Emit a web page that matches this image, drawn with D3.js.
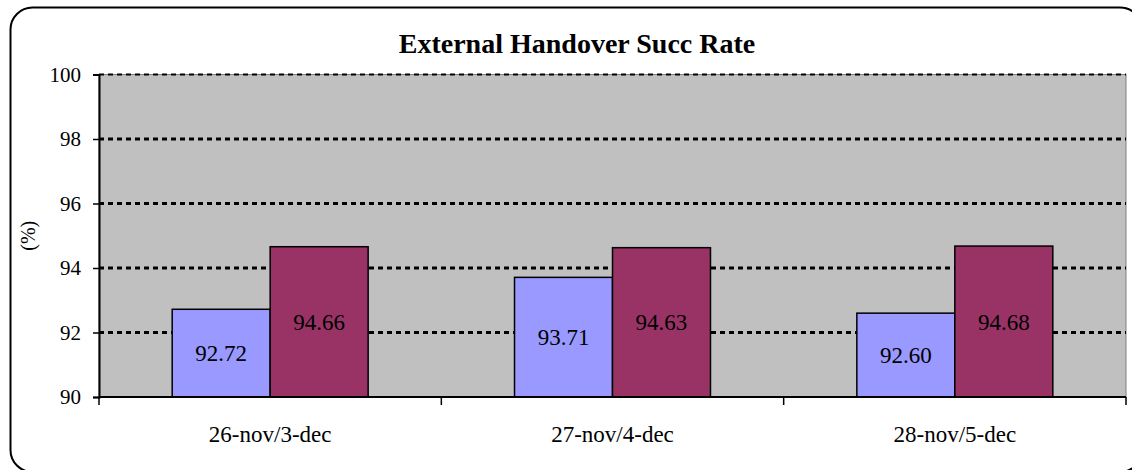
<!DOCTYPE html>
<html>
<head>
<meta charset="utf-8">
<script src="https://cdn.jsdelivr.net/npm/d3@7/dist/d3.min.js"></script>
<style>
  html, body { margin: 0; padding: 0; background: #ffffff; }
  svg { display: block; }
  text { font-family: "Liberation Serif", "Times New Roman", serif; fill: #000; }
</style>
</head>
<body>
<svg id="chart" width="1132" height="470"></svg>
<script>
// Weekly comparison: previous week vs current week
const categories = ["26-nov/3-dec", "27-nov/4-dec", "28-nov/5-dec"];
const seriesNames = ["prev", "curr"];
const prevWeek = [92.72, 93.71, 92.60];
const currWeek = [94.66, 94.63, 94.68];
const yTicks = [90, 92, 94, 96, 98, 100];
const seriesColors = ["#9999ff", "#993366"];

const svg = d3.select("#chart");
const plot = { left: 99, right: 1126, top: 74.5, bottom: 397 };

// Outer rounded frame
svg.append("rect")
  .attr("x", 10.5).attr("y", 7.5)
  .attr("width", 1142 - 10.5).attr("height", 472 - 7.5)
  .attr("rx", 22).attr("ry", 22)
  .attr("fill", "#ffffff")
  .attr("stroke", "#000").attr("stroke-width", 2);

// Title
svg.append("text")
  .attr("x", 577).attr("y", 53)
  .attr("text-anchor", "middle")
  .attr("font-weight", "bold")
  .attr("font-size", 28)
  .text("External Handover Succ Rate");

const y = d3.scaleLinear().domain([90, 100]).range([plot.bottom, plot.top]);
const x0 = d3.scaleBand().domain(categories).range([plot.left, plot.right]).padding(0);
const x1 = d3.scaleBand().domain(seriesNames).range([0, x0.bandwidth()])
  .paddingInner(0).paddingOuter(0.747);

// Plot area background
svg.append("rect")
  .attr("x", plot.left).attr("y", plot.top)
  .attr("width", plot.right - plot.left).attr("height", plot.bottom - plot.top)
  .attr("fill", "#c0c0c0")
  .attr("stroke", "#808080").attr("stroke-width", 1);

// Dotted gridlines
svg.append("g")
  .selectAll("line")
  .data(yTicks.filter(d => d > 90))
  .join("line")
  .attr("x1", plot.left).attr("x2", plot.right)
  .attr("y1", d => y(d)).attr("y2", d => y(d))
  .attr("stroke", "#000")
  .attr("stroke-width", d => d === 100 ? 2 : 3)
  .attr("stroke-dasharray", "5,4");

// Bars
const rows = categories.map((c, i) => ({ cat: c, values: [prevWeek[i], currWeek[i]] }));
const groups = svg.append("g")
  .selectAll("g")
  .data(rows)
  .join("g")
  .attr("transform", d => `translate(${x0(d.cat)},0)`);

groups.selectAll("rect")
  .data(d => d.values.map((v, j) => ({ key: seriesNames[j], v, j })))
  .join("rect")
  .attr("x", d => x1(d.key))
  .attr("y", d => y(d.v))
  .attr("width", x1.bandwidth())
  .attr("height", d => y(90) - y(d.v))
  .attr("fill", d => seriesColors[d.j])
  .attr("stroke", "#000").attr("stroke-width", 1.5);

groups.selectAll("text")
  .data(d => d.values.map((v, j) => ({ key: seriesNames[j], v, j })))
  .join("text")
  .attr("x", d => x1(d.key) + x1.bandwidth() / 2)
  .attr("y", d => (y(d.v) + y(90)) / 2)
  .attr("dy", "0.35em")
  .attr("text-anchor", "middle")
  .attr("font-size", 23)
  .text(d => d.v.toFixed(2));

// Y axis
const yAxis = d3.axisLeft(y).tickValues(yTicks).tickSize(6).tickPadding(12).tickFormat(d3.format("d"));
const gy = svg.append("g").attr("transform", `translate(${plot.left},0)`).call(yAxis);
gy.select(".domain").attr("stroke", "#000").attr("stroke-width", 2);
gy.selectAll(".tick line").attr("stroke", "#000").attr("stroke-width", 1.5);
gy.selectAll(".tick text").attr("font-size", 21).attr("font-family", "Liberation Serif");

// X axis with ticks at the category boundaries
const gx = svg.append("g").attr("transform", `translate(0,${plot.bottom})`);
gx.append("line")
  .attr("x1", plot.left).attr("x2", plot.right)
  .attr("y1", 0).attr("y2", 0)
  .attr("stroke", "#000").attr("stroke-width", 2);
const boundaries = categories.map(c => x0(c)).concat([x0(categories[categories.length - 1]) + x0.bandwidth()]);
gx.selectAll("line.tick")
  .data(boundaries)
  .join("line")
  .attr("class", "tick")
  .attr("x1", d => d).attr("x2", d => d)
  .attr("y1", 0).attr("y2", 8)
  .attr("stroke", "#000").attr("stroke-width", 1.5);
gx.selectAll("text")
  .data(categories)
  .join("text")
  .attr("x", d => x0(d) + x0.bandwidth() / 2)
  .attr("y", 45)
  .attr("text-anchor", "middle")
  .attr("font-size", 23)
  .text(d => d);

// Y axis title
svg.append("text")
  .attr("transform", `translate(35,${(plot.top + plot.bottom) / 2}) rotate(-90)`)
  .attr("text-anchor", "middle")
  .attr("font-size", 20)
  .text("(%)");
</script>
</body>
</html>
